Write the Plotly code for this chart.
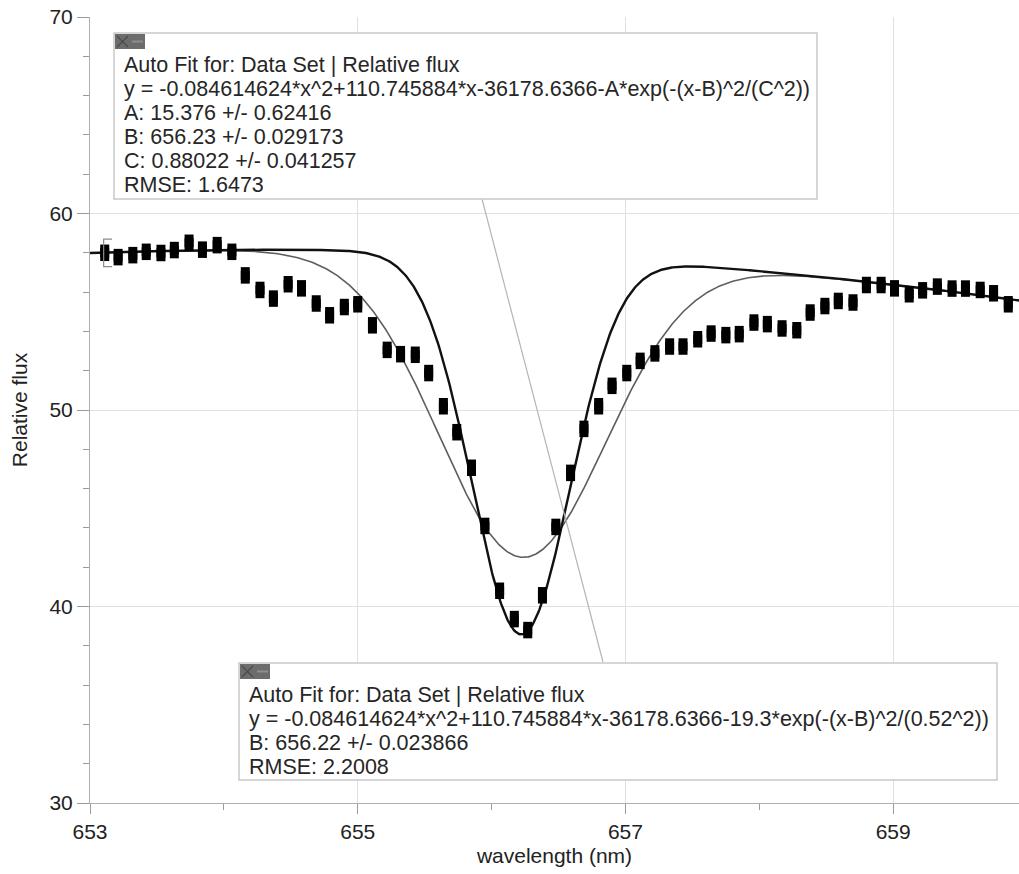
import numpy as np
import plotly.graph_objects as go

# Measured H-alpha absorption profile
wavelength = [
    653.11, 653.21, 653.32, 653.42, 653.53, 653.63, 653.74, 653.84, 653.95, 654.06,
    654.16, 654.27, 654.37, 654.48, 654.58, 654.69, 654.79, 654.90, 655.00, 655.11,
    655.22, 655.32, 655.43, 655.53, 655.64, 655.74, 655.85, 655.95, 656.06, 656.17,
    656.27, 656.38, 656.48, 656.59, 656.69, 656.80, 656.90, 657.01, 657.11, 657.22,
    657.33, 657.43, 657.54, 657.64, 657.75, 657.85, 657.96, 658.06, 658.17, 658.28,
    658.38, 658.49, 658.59, 658.70, 658.80, 658.91, 659.01, 659.12, 659.22, 659.33,
    659.44, 659.54, 659.65, 659.75, 659.86,
]
rel_flux = [
    58.00, 57.78, 57.88, 58.05, 57.99, 58.14, 58.51, 58.16, 58.39, 58.05,
    56.85, 56.11, 55.67, 56.40, 56.19, 55.42, 54.82, 55.24, 55.38, 54.31,
    53.06, 52.84, 52.81, 51.88, 50.19, 48.87, 47.06, 44.10, 40.80, 39.36,
    38.80, 40.57, 44.05, 46.80, 49.04, 50.19, 51.23, 51.88, 52.50, 52.88,
    53.23, 53.23, 53.60, 53.89, 53.81, 53.86, 54.45, 54.37, 54.15, 54.06,
    54.96, 55.29, 55.55, 55.47, 56.36, 56.36, 56.19, 55.89, 56.09, 56.28,
    56.18, 56.18, 56.11, 55.94, 55.38,
]

# Continuum (quadratic) shared by both fits
quad = [-0.084614624, 110.745884, -36178.6366]

# Fit 1: free Gaussian depth A, centre B, width C
fit1_A, fit1_A_err = 15.376, 0.62416
fit1_B, fit1_B_err = 656.23, 0.029173
fit1_C, fit1_C_err = 0.88022, 0.041257
fit1_rmse = 1.6473

# Fit 2: fixed depth and width, free centre B
fit2_depth, fit2_width = 19.3, 0.52
fit2_B, fit2_B_err = 656.22, 0.023866
fit2_rmse = 2.2008

x_range = [653, 659.94]
y_range = [30, 70]

# ---- model curves -------------------------------------------------------
xs = np.linspace(x_range[0], x_range[1], 900)
continuum = quad[0] * xs**2 + quad[1] * xs + quad[2]
curve1 = continuum - fit1_A * np.exp(-(xs - fit1_B) ** 2 / fit1_C**2)
curve2 = continuum - fit2_depth * np.exp(-(xs - fit2_B) ** 2 / fit2_width**2)

fig = go.Figure()

fig.add_trace(go.Scatter(
    x=xs, y=curve1, mode="lines",
    line=dict(color="#5e5e5e", width=1.6), hoverinfo="skip", showlegend=False,
))
fig.add_trace(go.Scatter(
    x=xs, y=curve2, mode="lines",
    line=dict(color="#111111", width=2.4), hoverinfo="skip", showlegend=False,
))

# data points drawn as small upright black blocks
fig.add_trace(go.Scatter(
    x=wavelength, y=rel_flux, mode="markers",
    marker=dict(symbol="square", size=9, color="black"),
    error_y=dict(type="constant", value=0.42, thickness=9, width=0, color="black"),
    showlegend=False,
))

# selection bracket at the start of the fitted range
bx0 = wavelength[0]
by0 = rel_flux[0]
fig.add_trace(go.Scatter(
    x=[bx0 + 0.055, bx0 - 0.008, bx0 - 0.008, bx0 + 0.055],
    y=[by0 + 0.7, by0 + 0.7, by0 - 0.7, by0 - 0.7],
    mode="lines", line=dict(color="#8a8a8a", width=1.2),
    hoverinfo="skip", showlegend=False,
))

# ---- plot-area geometry (pixels) -----------------------------------------
W, H = 1019, 874
PL, PR, PT, PB = 90, 1019, 17, 803


def fx(px):
    return (px - PL) / (PR - PL)


def fy(py):
    return (PB - py) / (PB - PT)


shapes = []
annotations = []

# pointer line between the two fit boxes
shapes.append(dict(type="line", xref="paper", yref="paper",
                   x0=fx(482), y0=fy(199), x1=fx(603), y1=fy(662),
                   line=dict(color="#b5b5b5", width=1.2), layer="above"))


def fit_box(left, top, right, bottom, lines):
    shapes.append(dict(type="rect", xref="paper", yref="paper",
                       x0=fx(left), x1=fx(right), y0=fy(bottom), y1=fy(top),
                       fillcolor="white", line=dict(color="#c9c9c9", width=1.5),
                       layer="above"))
    # close / options icon in the corner
    for k in range(2):
        shapes.append(dict(type="rect", xref="paper", yref="paper",
                           x0=fx(left + 1 + 15 * k), x1=fx(left + 16 + 15 * k),
                           y0=fy(top + 16), y1=fy(top + 1),
                           fillcolor="#6c6c6c", line=dict(width=0), layer="above"))
    for (a, b, c, d) in [(3, 3, 14, 14), (3, 14, 14, 3)]:
        shapes.append(dict(type="line", xref="paper", yref="paper",
                           x0=fx(left + a), y0=fy(top + b), x1=fx(left + c), y1=fy(top + d),
                           line=dict(color="#4a4a4a", width=1.3), layer="above"))
    shapes.append(dict(type="line", xref="paper", yref="paper",
                       x0=fx(left + 18), y0=fy(top + 8.5), x1=fx(left + 29), y1=fy(top + 8.5),
                       line=dict(color="#8e8e8e", width=2), layer="above"))
    for i, txt in enumerate(lines):
        annotations.append(dict(
            xref="paper", yref="paper", x=fx(left + 8), y=fy(top + 32 + 23.9 * i),
            xanchor="left", yanchor="middle", showarrow=False, text=txt,
            font=dict(family="Liberation Sans, Arial, sans-serif", size=21.5, color="#262626"),
        ))


eq_base = f"y = {quad[0]}*x^2+{quad[1]}*x{quad[2]}"
fit_box(114, 33, 817, 199, [
    "Auto Fit for: Data Set | Relative flux",
    eq_base + "-A*exp(-(x-B)^2/(C^2))",
    f"A: {fit1_A} +/- {fit1_A_err}",
    f"B: {fit1_B} +/- {fit1_B_err}",
    f"C: {fit1_C} +/- {fit1_C_err}",
    f"RMSE: {fit1_rmse}",
])
fit_box(239, 663, 997, 780, [
    "Auto Fit for: Data Set | Relative flux",
    eq_base + f"-{fit2_depth}*exp(-(x-B)^2/({fit2_width}^2))",
    f"B: {fit2_B} +/- {fit2_B_err}",
    f"RMSE: {fit2_rmse}",
])

font_main = dict(family="Liberation Sans, Arial, sans-serif", size=21, color="#222222")

fig.update_layout(
    width=W, height=H,
    margin=dict(l=PL, r=W - PR, t=PT, b=H - PB),
    paper_bgcolor="white", plot_bgcolor="white",
    font=font_main,
    shapes=shapes, annotations=annotations,
    xaxis=dict(
        range=x_range, tick0=653, dtick=2,
        ticks="outside", ticklen=10, tickcolor="#9a9a9a", tickwidth=1,
        minor=dict(dtick=1, tick0=653, ticks="outside", ticklen=6, tickcolor="#9a9a9a", showgrid=False),
        showgrid=True, gridcolor="#e0e0e0", gridwidth=1,
        showline=True, linecolor="#b0b0b0", linewidth=1, zeroline=False,
        tickfont=font_main,
        title=dict(text="wavelength (nm)", font=font_main, standoff=6),
    ),
    yaxis=dict(
        range=y_range, tick0=30, dtick=10,
        ticks="outside", ticklen=12, tickcolor="#9a9a9a", tickwidth=1,
        minor=dict(dtick=2, tick0=30, ticks="outside", ticklen=6, tickcolor="#9a9a9a", showgrid=False),
        showgrid=True, gridcolor="#e0e0e0", gridwidth=1,
        showline=True, linecolor="#b0b0b0", linewidth=1, zeroline=False,
        tickfont=font_main,
        title=dict(text="Relative flux", font=font_main, standoff=16),
    ),
)

fig.write_html("out.html", config={"displayModeBar": False})
